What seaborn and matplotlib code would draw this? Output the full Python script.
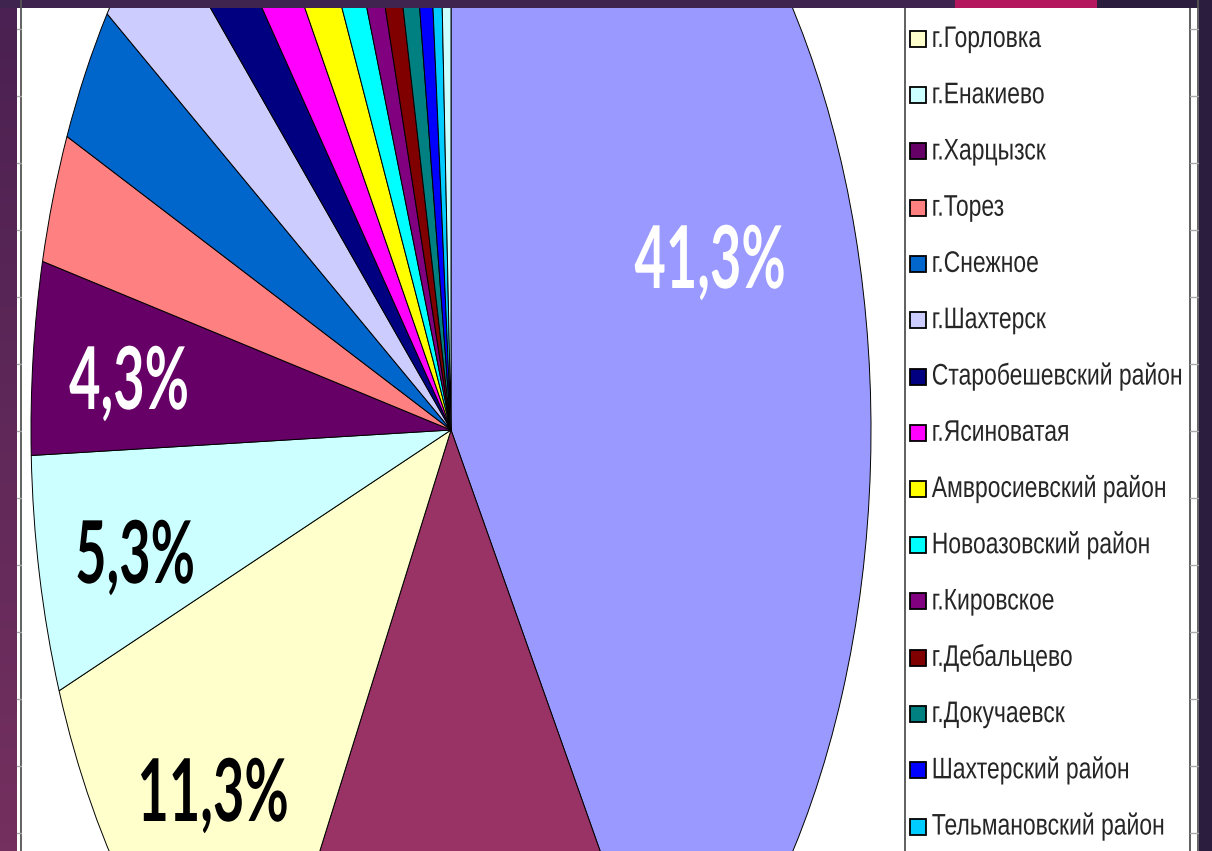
import matplotlib
matplotlib.use('Agg')
import matplotlib.pyplot as plt
import matplotlib.patheffects as pe
from matplotlib.patches import Rectangle
from matplotlib.lines import Line2D
from matplotlib.transforms import Affine2D
from matplotlib.colors import LinearSegmentedColormap
import numpy as np
import seaborn as sns

# доли населения по городам и районам, %
districts = ['г.Донецк', 'г.Макеевка', 'г.Горловка', 'г.Енакиево', 'г.Харцызск',
             'г.Торез', 'г.Снежное', 'г.Шахтерск', 'Старобешевский район',
             'г.Ясиноватая', 'Амвросиевский район', 'Новоазовский район',
             'г.Кировское', 'г.Дебальцево', 'г.Докучаевск', 'Шахтерский район',
             'Тельмановский район', 'Ясиноватский район']
shares = [41.3, 16.6, 11.3, 5.3, 4.3, 2.9, 3.1, 2.9, 1.9, 1.9, 1.9, 1.4,
          1.1, 1.1, 1.05, 0.86, 0.6, 0.57]
colors = ['#9999FF', '#993366', '#FFFFCC', '#CCFFFF', '#660066', '#FF8080',
          '#0066CC', '#CCCCFF', '#000080', '#FF00FF', '#FFFF00', '#00FFFF',
          '#800080', '#800000', '#008080', '#0000FF', '#00CCFF', '#CCFFFF']
labelled = [0, 2, 3, 4]          # подписи, которые видны на слайде
label_colors = ['white', 'black', 'black', 'white']
legend_idx = list(range(2, 17))  # видимая часть легенды


class Stretch(pe.AbstractPathEffect):
    # вытягивает текст по вертикали (слайд растянут)
    def __init__(self, sy):
        super().__init__()
        self.sy = sy

    def draw_path(self, renderer, gc, tpath, affine, rgbFace=None):
        renderer.draw_path(gc, tpath, Affine2D().scale(1, self.sy) + affine, rgbFace)


sns.set_theme(style='white')
plt.rcParams['font.family'] = ['Liberation Sans', 'DejaVu Sans']

W, H = 1212, 851
fig = plt.figure(figsize=(W / 100, H / 100), dpi=100)
fig.patch.set_facecolor('white')


def fx(px):
    return px / W


def fy(py):
    return 1 - py / H


# круговая диаграмма, растянутая в эллипс
cx, cy, rx, ry = 451, 430, 420, 725
ax = fig.add_axes([0, 0, 1, 1])
wedges, _ = ax.pie(shares, colors=colors, startangle=90, counterclock=False,
                   wedgeprops=dict(edgecolor='black', linewidth=0.7))
ax.set_aspect('auto')
ax.set_xlim(-cx / rx, (W - cx) / rx)
ax.set_ylim(-(H - cy) / ry, cy / ry)
ax.axis('off')

label_pos = {0: (710, 288), 2: (213, 821), 3: (135, 583), 4: (129, 409)}
for i, c in zip(labelled, label_colors):
    px, py = label_pos[i]
    t = ax.text((px - cx) / rx, (cy - py) / ry, f'{shares[i]:.1f}%'.replace('.', ','),
                ha='center', va='baseline', color=c, fontsize=39, fontweight='bold',
                family=['Lato', 'DejaVu Sans'])
    t.set_path_effects([Stretch(1.6)])

# легенда
leg = fig.legend([wedges[i] for i in legend_idx], [districts[i] for i in legend_idx],
                 loc='upper left', bbox_to_anchor=(fx(910), fy(29)), frameon=False,
                 fontsize=16.5, handlelength=0.7, handleheight=0.7,
                 handletextpad=0.25, labelspacing=1.45, borderpad=0, borderaxespad=0)
for t in leg.get_texts():
    t.set_path_effects([Stretch(1.3)])
for h in leg.legend_handles:
    h.set_linewidth(1.3)
fig.add_artist(Rectangle((fx(905), fy(870)), fx(1190) - fx(905), fy(-10) - fy(870),
                         transform=fig.transFigure, fill=False, ec='#444444', lw=1.2))

# фон слайда
lax = fig.add_axes([0, 0, fx(17), 1])
lax.imshow(np.linspace(0, 1, 100)[:, None], aspect='auto',
           cmap=LinearSegmentedColormap.from_list('side', ['#4a2152', '#74305f']))
lax.axis('off')
fig.add_artist(Line2D([fx(21)] * 2, [0, 1], color='#555555', lw=1.3))
fig.add_artist(Line2D([fx(1198)] * 2, [0, 1], color='#555555', lw=1.3))
for y in range(29, H, 67):
    fig.add_artist(Line2D([fx(17), fx(21)], [fy(y)] * 2, color='#aaaaaa', lw=1))
    fig.add_artist(Line2D([fx(1190), fx(1198)], [fy(y)] * 2, color='#aaaaaa', lw=1))
fig.add_artist(Rectangle((fx(1199), 0), 1 - fx(1199), 1, transform=fig.transFigure,
                         fc='#2a1d3e', ec='none'))
fig.add_artist(Rectangle((0, fy(8)), fx(955), 1 - fy(8), transform=fig.transFigure,
                         fc='#3f2450', ec='none'))
fig.add_artist(Rectangle((fx(955), fy(8)), fx(1097) - fx(955), 1 - fy(8),
                         transform=fig.transFigure, fc='#b5175f', ec='none'))
fig.add_artist(Rectangle((fx(1097), fy(8)), 1 - fx(1097), 1 - fy(8),
                         transform=fig.transFigure, fc='#2a1d3e', ec='none'))

fig.savefig('out.png', dpi=100)
